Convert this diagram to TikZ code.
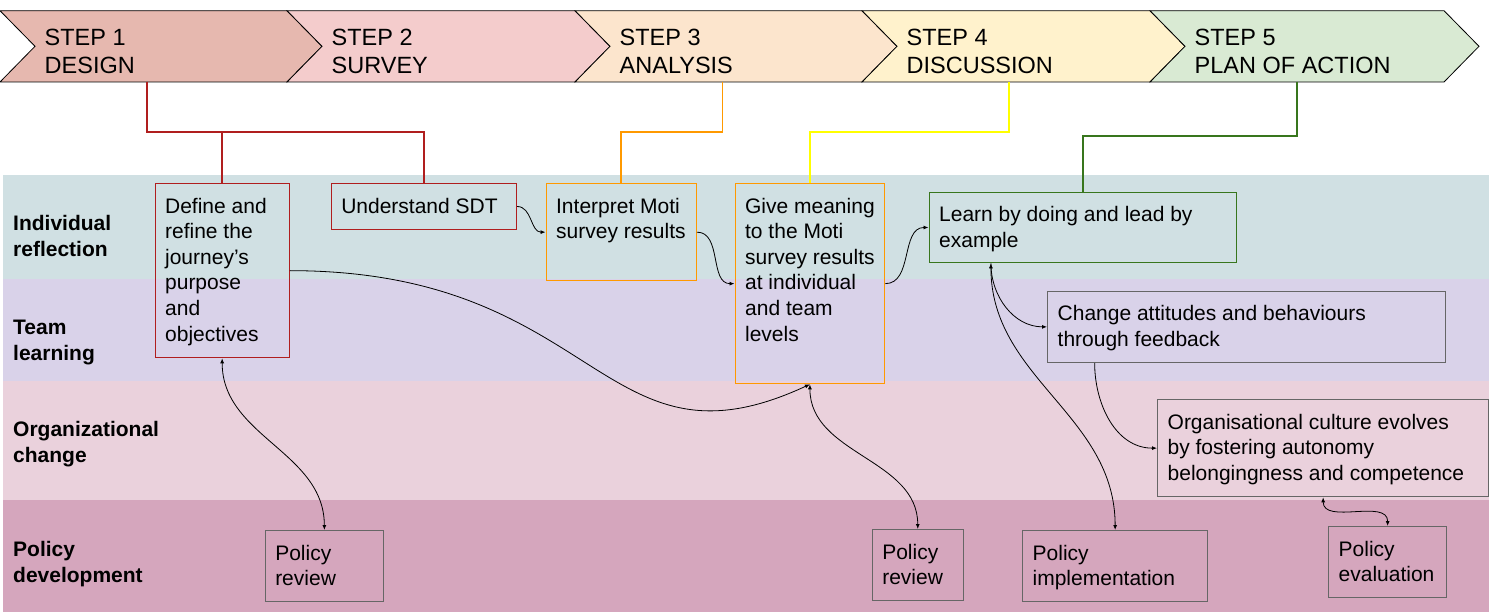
\documentclass[tikz,border=0pt]{standalone}
\usepackage{fontspec}
\setmainfont{Liberation Sans}
\usepackage{xcolor}
\usepackage{tikz}
\usetikzlibrary{arrows.meta,positioning}

\definecolor{stepA}{HTML}{E6B8AF}
\definecolor{stepB}{HTML}{F4CCCC}
\definecolor{stepC}{HTML}{FCE5CD}
\definecolor{stepD}{HTML}{FFF2CC}
\definecolor{stepE}{HTML}{D9EAD3}
\definecolor{laneA}{HTML}{D0E0E3}
\definecolor{laneB}{HTML}{D9D2E9}
\definecolor{laneC}{HTML}{EAD1DC}
\definecolor{laneD}{HTML}{D5A6BD}
\definecolor{redline}{HTML}{B01E1E}
\definecolor{orangeline}{HTML}{FF9900}
\definecolor{yellowline}{HTML}{FFFF00}
\definecolor{greenline}{HTML}{38761D}
\definecolor{greyline}{HTML}{666666}

\newcommand{\cellfont}{\fontsize{21}{25.6}\selectfont}
\newcommand{\lanefont}{\fontsize{21}{26}\selectfont\bfseries}
\newcommand{\stepfont}{\fontsize{23.5}{28}\selectfont}
\newcommand{\boxtxt}[3]{\begin{minipage}[t][#2pt][t]{#1pt}\raggedright\leftskip=10pt\rule{0pt}{29.5pt}#3\end{minipage}}

\begin{document}
\begin{tikzpicture}[x=1pt, y=-1pt, >={Latex[length=5pt,width=4pt]},
  cell/.style={draw=#1, line width=1.3pt, anchor=north west, inner sep=0pt, font=\cellfont},
  lanelbl/.style={anchor=north west, inner sep=0pt, align=left, font=\lanefont},
  steplbl/.style={anchor=north west, inner sep=0pt, align=left, font=\stepfont},
  link/.style={draw=#1, line width=1.8pt},
  flow/.style={->, line width=0.8pt, black}]
  \useasboundingbox (0,0) rectangle (1491,612);
  % swim lanes
  \foreach \ya/\yb/\col in {175/279/laneA, 279/381/laneB, 381/500/laneC, 500/612/laneD}
    \fill[\col] (3,\ya) rectangle (1489,\yb);
  \node[lanelbl] (ind) at (13,210) {\rule{0pt}{20pt}Individual\\reflection};
  \node[lanelbl] (team) at (13,314) {\rule{0pt}{20pt}Team\\learning};
  \node[lanelbl] (orgch) at (13,416) {\rule{0pt}{20pt}Organizational\\change};
  \node[lanelbl] (pol) at (13,536) {\rule{0pt}{20pt}Policy\\development};
  % steps
  \foreach \xa/\xb/\col/\n/\name in {0/287/stepA/1/DESIGN, 287/575/stepB/2/SURVEY, 575/862/stepC/3/ANALYSIS,
      862/1150/stepD/4/DISCUSSION, 1150/1444/stepE/5/PLAN OF ACTION} {
    \draw[fill=\col, line width=0.8pt] (\xa,10.7) -- (\xb,10.7) -- (\xb+35,46.3) -- (\xb,82)
      -- (\xa,82) -- (\xa+35,46.3) -- cycle;
    \node[steplbl] (st\n) at (\xa+44.5,25) {\rule{0pt}{20pt}STEP \n\\\name};
  }
  \coordinate (s1b) at (147,82);
  \coordinate (s3b) at (722.5,82);
  \coordinate (s4b) at (1009,82);
  \coordinate (s5b) at (1297,82);
  % boxes
  \node[cell=redline] (def) at (154.5,183) {\boxtxt{134}{174}{Define and\\refine the\\journey’s\\purpose\\and\\objectives}};
  \node[cell=redline] (sdt) at (330.6,183) {\boxtxt{185.2}{45.7}{Understand SDT}};
  \node[cell=orangeline] (interp) at (545.5,183) {\boxtxt{150.2}{97}{Interpret Moti\\survey results}};
  \node[cell=orangeline] (meaning) at (734.5,183) {\boxtxt{149.5}{200}{Give meaning\\to the Moti\\survey results\\at individual\\and team\\levels}};
  \node[cell=greenline] (learn) at (928.5,191.7) {\boxtxt{307.5}{70.3}{Learn by doing and lead by\\example}};
  \node[cell=greyline] (change) at (1047,290.7) {\boxtxt{398}{71}{Change attitudes and behaviours\\through feedback}};
  \node[cell=greyline] (org) at (1157,399) {\boxtxt{331}{97}{Organisational culture evolves\\by fostering autonomy\\belongingness and competence}};
  \node[cell=greyline] (rev1) at (264.6,530) {\boxtxt{118.2}{71}{Policy\\review}};
  \node[cell=greyline] (rev2) at (871.6,529) {\boxtxt{91}{71}{Policy\\review}};
  \node[cell=greyline] (impl) at (1022,530) {\boxtxt{185}{71}{Policy\\implementation}};
  \node[cell=greyline] (eval) at (1328,526) {\boxtxt{118}{71}{Policy\\evaluation}};
  % links from the steps
  \draw[link=redline] (s1b) -- ++(0,50) -| (def.north);
  \draw[link=redline] (s1b) -- ++(0,50) -| (sdt.north);
  \draw[link=orangeline] (s3b) -- ++(0,50) -| (interp.north);
  \draw[link=yellowline, line width=1.5pt] (s4b) -- ++(0,50) -| (meaning.north);
  \draw[link=greenline] (s5b) -- ++(0,54) -| (learn.north);
  % flows
  \draw[flow] (sdt.east) to[out=0,in=180] (interp.west);
  \draw[flow] (interp.east) to[out=0,in=180] (meaning.west);
  \draw[flow] (meaning.east) to[out=0,in=180] (learn.west);
  \draw[flow] (def.east) .. controls +(311,0) and +(-209,97) .. (meaning.south);
  \draw[flow,<->] (def.south) to[out=-90,in=90] (rev1.north);
  \draw[flow,<->] (meaning.south) to[out=-90,in=90] (rev2.north);
  \draw[flow] ([xshift=-92pt]learn.south) to[out=-90,in=180] (change.west);
  \draw[flow,<->] ([xshift=-92pt]learn.south) to[out=-90,in=90] (impl.north);
  \draw[flow] ([xshift=-152pt]change.south) to[out=-90,in=180] (org.west);
  \draw[flow,<->] (eval.north) to[out=90,in=-90] (org.south);
\end{tikzpicture}
\end{document}
